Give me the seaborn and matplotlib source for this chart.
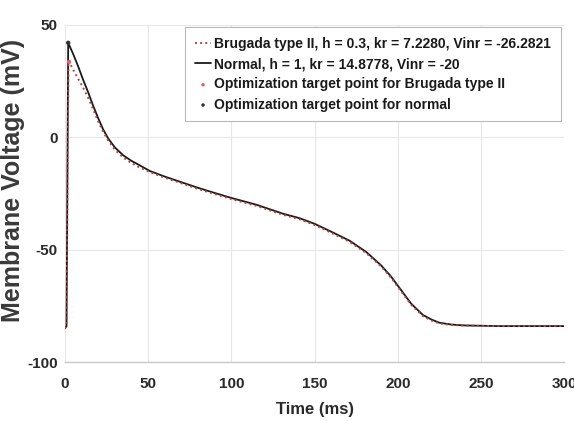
import matplotlib
matplotlib.use("Agg")
import matplotlib.pyplot as plt
import seaborn as sns
import pandas as pd

# Action potential traces (time in ms, membrane voltage in mV)
t_normal = [0, 1.0, 2.0, 5, 8, 11, 14, 17, 20, 23, 26, 30, 35, 40, 45, 51, 60, 70,
            80, 91, 100, 115, 131, 141, 150, 160, 171, 181, 190, 196, 201, 208, 215,
            220, 225, 232, 240, 260, 300]
v_normal = [-85, -84, 42, 37, 31.5, 25.5, 20, 14, 8.5, 3.5, -0.5, -4.5, -8, -10.5,
            -12.5, -15, -17.5, -20, -22.5, -25, -27, -30, -34, -36, -38.5, -42, -46,
            -51, -57, -62, -67, -74, -79, -81, -82.5, -83.3, -83.7, -84, -84]

t_brugada = [0, 1.0, 2.2, 3, 5, 8, 11, 14, 17, 20, 23, 26, 30, 35, 40, 45, 51, 60, 70,
             80, 91, 100, 115, 131, 141, 150, 160, 171, 181, 190, 196, 201, 208, 215,
             220, 225, 232, 240, 260, 300]
v_brugada = [-85, -84, 34, 33, 30, 26, 22, 17.5, 12.5, 7, 2.5, -1.5, -5.5, -9, -11.5,
             -13.5, -15.5, -18, -20.5, -23, -25.5, -27.5, -30.5, -34.5, -36.5, -39,
             -42.5, -46.5, -51.5, -57.5, -62.5, -67.5, -74.5, -79.5, -81.5, -82.8,
             -83.5, -83.8, -84, -84]

# Optimization target points
t_target_brugada = [2.5]
v_target_brugada = [33.5]
t_target_normal = [2.0]
v_target_normal = [42]

labels = [
    "Brugada type II, h = 0.3, kr = 7.2280, Vinr = -26.2821",
    "Normal, h = 1, kr = 14.8778, Vinr = -20",
    "Optimization target point for Brugada type II",
    "Optimization target point for normal",
]
x_ticks = [0, 50, 100, 150, 200, 250, 300]
y_ticks = [-100, -50, 0, 50]

sns.set_style("whitegrid")
plt.rcParams["font.family"] = ["Liberation Sans", "DejaVu Sans"]
plt.rcParams["font.weight"] = "bold"
plt.rcParams["axes.unicode_minus"] = False

df_b = pd.DataFrame({"t": t_brugada, "v": v_brugada})
df_n = pd.DataFrame({"t": t_normal, "v": v_normal})
df_tb = pd.DataFrame({"t": t_target_brugada, "v": v_target_brugada})
df_tn = pd.DataFrame({"t": t_target_normal, "v": v_target_normal})

fig = plt.figure(figsize=(5.74, 4.21), dpi=100)
ax = fig.add_axes([0.113, 0.140, 0.870, 0.801])

sns.lineplot(data=df_n, x="t", y="v", ax=ax, color="#1a1a1a", lw=1.3,
             label=labels[1], sort=False, zorder=3)
sns.lineplot(data=df_b, x="t", y="v", ax=ax, color="#b04848", lw=1.4,
             linestyle=":", label=labels[0], sort=False, zorder=4)
sns.scatterplot(data=df_tb, x="t", y="v", ax=ax, color="#e06070", s=10,
                edgecolor="none", label=labels[2], zorder=5)
sns.scatterplot(data=df_tn, x="t", y="v", ax=ax, color="#333333", s=10,
                edgecolor="none", label=labels[3], zorder=5)

ax.set_xlim(0, 300)
ax.set_ylim(-100, 50)
ax.set_xticks(x_ticks)
ax.set_yticks(y_ticks)
ax.tick_params(axis="both", labelsize=11, labelcolor="#2a2a2a", length=0)
ax.tick_params(axis="x", pad=11)
ax.tick_params(axis="y", pad=5)
for lbl in ax.get_xticklabels() + ax.get_yticklabels():
    lbl.set_fontweight("bold")
ax.grid(True, color="#e6e6e6", lw=0.8)
for side in ["top", "right", "left"]:
    ax.spines[side].set_visible(False)
ax.spines["bottom"].set_color("#c8c8c8")
ax.spines["bottom"].set_linewidth(1.0)

ax.set_xlabel("Time (ms)", fontsize=12, fontweight="bold", color="#2a2a2a", labelpad=8)
ax.set_ylabel("Membrane Voltage (mV)", fontsize=18, fontweight="bold", color="#3a3a3a")
ax.yaxis.set_label_coords(-0.08, 0.54)

handles, labs = ax.get_legend_handles_labels()
order = [labs.index(l) for l in labels]
leg = ax.legend([handles[i] for i in order], [labs[i] for i in order],
                loc="upper right", bbox_to_anchor=(0.993, 0.993), fontsize=10,
                frameon=True, fancybox=False, edgecolor="#b8b8b8", framealpha=1,
                handlelength=1.2, handletextpad=0.2, labelspacing=0.45,
                borderpad=0.7, borderaxespad=0.0, markerscale=0.8)
for txt in leg.get_texts():
    txt.set_fontweight("bold")
    txt.set_color("#1a1a1a")
leg.get_frame().set_linewidth(0.8)

fig.savefig("out.png", dpi=100)
